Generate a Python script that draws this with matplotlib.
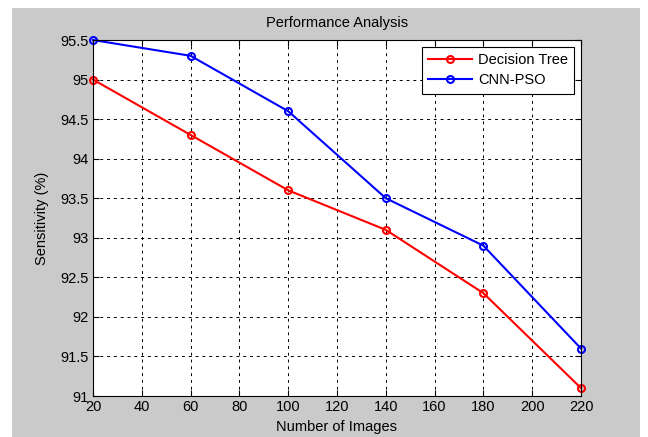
import matplotlib.pyplot as plt
from matplotlib.patches import Rectangle

plt.rcParams['font.family'] = ['Liberation Sans', 'DejaVu Sans']

# data
num_images = [20, 60, 100, 140, 180, 220]
decision_tree = [95.0, 94.3, 93.6, 93.1, 92.3, 91.1]
cnn_pso = [95.5, 95.3, 94.6, 93.5, 92.9, 91.6]

x_ticks = list(range(20, 221, 20))
y_ticks = [91, 91.5, 92, 92.5, 93, 93.5, 94, 94.5, 95, 95.5]
y_labels = ['91', '91.5', '92', '92.5', '93', '93.5', '94', '94.5', '95', '95.5']

W, H = 648, 437
fig = plt.figure(figsize=(W / 100, H / 100), dpi=100, facecolor='white')
# gray matlab-style figure panel
fig.patches.append(Rectangle((12 / W, 0), 628 / W, 1 - 8 / H,
                             transform=fig.transFigure, facecolor='#cacaca',
                             edgecolor='none', zorder=-10))

ax = fig.add_axes([93 / W, (H - 396) / H, 488 / W, 356 / H])
ax.plot(num_images, decision_tree, color='red', lw=1.5, marker='o', ms=5,
        mfc='none', mew=1.5, label='Decision Tree', clip_on=False)
ax.plot(num_images, cnn_pso, color='blue', lw=1.5, marker='o', ms=5,
        mfc='none', mew=1.5, label='CNN-PSO', clip_on=False)

ax.set_xlim(20, 220)
ax.set_ylim(91, 95.5)
ax.set_xticks(x_ticks)
ax.set_yticks(y_ticks)
ax.set_yticklabels(y_labels)
ax.tick_params(direction='in', labelsize=10.5, colors='black', length=4,
               top=True, right=True)
ax.tick_params(axis='y', pad=3)
ax.tick_params(axis='x', pad=3)
ax.grid(True, color='black', linestyle=(0, (3, 4)), linewidth=0.7)
for s in ax.spines.values():
    s.set_linewidth(0.8)

ax.set_title('Performance Analysis', fontsize=10.5, pad=9)
ax.set_xlabel('Number of Images', fontsize=10.5, labelpad=4)
ax.set_ylabel('Sensitivity (%)', fontsize=10.5, labelpad=8)

leg = ax.legend(loc='upper right', fontsize=10.5, fancybox=False, framealpha=1,
                edgecolor='black', borderaxespad=0.45, handlelength=3,
                handletextpad=0.4, borderpad=0.45, labelspacing=0.4)
leg.get_frame().set_linewidth(0.8)

fig.savefig('out.png', dpi=100)
